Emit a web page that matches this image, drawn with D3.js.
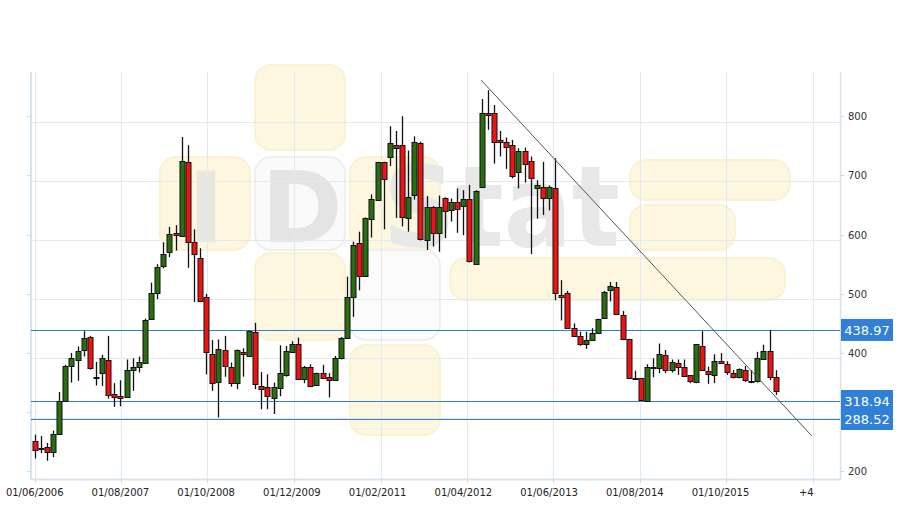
<!DOCTYPE html>
<html><head><meta charset="utf-8">
<script src="https://cdn.jsdelivr.net/npm/d3@7"></script>
<style>html,body{margin:0;padding:0;background:#fff;}svg{display:block;}</style>
</head><body>
<svg id="chart" width="909" height="509"></svg>
<script>
// ---- DATA (monthly candles, starting 06/2006) ----
const opens  = [251,240,241,232,263,319,378,388,404,427,359,366,389,330,327,327,372,376,384,457,502,546,570,602,597,722,588,560,494,398,350,405,377,350,401,395,435,345,342,325,340,363,401,416,357,377,345,366,359,354,391,425,495,585,530,626,658,722,730,752,751,629,668,755,591,646,602,661,641,655,649,660,551,681,806,805,760,756,751,706,741,724,678,680,661,678,498,501,442,429,415,422,433,459,508,512,465,423,357,357,319,375,375,397,370,383,377,362,351,411,370,363,387,381,366,359,371,352,352,390,404,360];
const highs  = [262,260,248,269,334,380,400,411,437,429,385,397,429,349,354,389,391,394,458,519,550,587,613,616,765,751,609,577,500,422,423,429,384,406,408,438,451,368,364,350,413,412,420,426,378,381,367,380,366,395,427,529,588,605,629,668,723,723,783,775,800,742,766,757,665,648,666,663,661,678,675,684,675,829,844,819,775,764,760,746,747,732,692,723,683,729,523,505,450,436,436,442,458,505,520,520,471,424,370,357,381,391,416,405,389,389,389,362,415,437,377,398,400,386,371,374,378,371,402,414,439,371];
const lows   = [222,231,218,224,262,318,350,353,394,372,345,344,323,309,310,326,336,367,383,456,491,543,562,573,596,544,486,486,364,336,291,360,343,339,360,394,339,305,305,297,327,360,400,356,349,344,344,357,325,353,389,424,461,506,529,595,657,609,716,628,614,605,659,590,574,580,571,594,622,603,599,553,550,680,777,720,732,711,695,678,688,567,627,633,641,489,455,441,427,412,407,421,432,458,487,465,424,357,356,319,318,359,366,366,367,363,360,349,349,370,348,349,382,363,357,357,351,349,350,389,354,329];
const closes = [236,239,232,263,319,378,391,404,425,374,360,391,330,325,323,372,377,384,456,501,546,567,601,598,724,587,568,487,401,349,406,378,350,405,397,437,347,340,327,343,366,403,415,357,377,345,366,358,354,392,425,495,582,530,628,660,722,693,754,747,629,664,757,592,646,602,646,639,655,644,660,555,674,806,803,756,756,747,698,741,719,695,683,661,680,500,495,442,428,415,422,433,457,503,514,466,425,357,358,319,377,376,398,371,384,376,362,352,415,371,365,387,383,367,360,373,354,351,391,404,360,336];

const xTickLabels = ["01/06/2006","01/08/2007","01/10/2008","01/12/2009","01/02/2011","01/04/2012","01/06/2013","01/08/2014","01/10/2015","+4"];
const xLabelIndex = [0,14,28,42,56,70,84,98,112,126];
const xGridIndex  = [0,14.1,28.2,42.35,56.5,70.6,84.7,98.8,112.95,127.1];
const yTickValues = [200,300,400,500,600,700,800];
const yLabelValues = [200,400,500,600,700,800];
const yGridValues = [291,391,491,591,691,791];
const levels      = [438.97,318.94,288.52];
const trendIndex  = [72.9,126.9];
const trendValue  = [861,260];

// ---- SCALES ----
const svg = d3.select("#chart");
const x = d3.scaleLinear().domain([0,127.1]).range([34.7,813]);
const y = d3.scaleLinear().domain([200,800]).range([471.4,116.2]);
const plotL = 31, plotR = 840, plotT = 72, plotB = 479;

svg.append("rect").attr("width",909).attr("height",509).attr("fill","#fff");

// ---- WATERMARK ----
const wm = svg.append("g");
const Y = "#fdf7e0";
const sq = [
  [255,65,90,85,Y],[160,157,90,93,Y],[255,157,90,93,"#fafafa"],[350,157,90,93,Y],
  [255,253,90,87,Y],[350,250,90,90,"#fbfbfb"],[350,345,90,90,Y],
  [630,160,160,40,Y],[630,205,105,45,Y],[450,258,335,42,Y]
];
wm.selectAll("rect").data(sq).join("rect")
  .attr("x",d=>d[0]).attr("y",d=>d[1]).attr("width",d=>d[2]).attr("height",d=>d[3])
  .attr("rx",16).attr("fill",d=>d[4]).attr("stroke",d=>d[4]===Y?"#fbf2d4":"#efefef").attr("stroke-width",2);
wm.append("text").attr("x",206).attr("y",242).attr("text-anchor","middle")
  .attr("font-family","DejaVu Sans").attr("font-weight","bold").attr("font-size",98).attr("fill","#e8e6df").text("I");
wm.append("text").attr("x",302).attr("y",242).attr("text-anchor","middle")
  .attr("font-family","DejaVu Sans").attr("font-weight","bold").attr("font-size",98).attr("fill","#e4e4e4").text("D");
wm.append("text").attr("x",383).attr("y",246).attr("textLength",237).attr("lengthAdjust","spacingAndGlyphs")
  .attr("font-family","DejaVu Sans").attr("font-weight","bold").attr("font-size",112).attr("fill","#e8e8e8").text("Stat");

// ---- GRID ----
const gridColor = "#e1eaf3";
svg.append("g").selectAll("line").data(xGridIndex).join("line")
  .attr("x1",d=>Math.round(x(d))+0.5).attr("x2",d=>Math.round(x(d))+0.5)
  .attr("y1",plotT).attr("y2",plotB).attr("stroke",gridColor).attr("stroke-width",1);
svg.append("g").selectAll("line").data(yGridValues).join("line")
  .attr("x1",plotL).attr("x2",plotR)
  .attr("y1",d=>Math.round(y(d))+0.5).attr("y2",d=>Math.round(y(d))+0.5)
  .attr("stroke",gridColor).attr("stroke-width",1);

// axis frame
svg.append("line").attr("x1",plotL).attr("x2",plotL).attr("y1",plotT).attr("y2",plotB+1).attr("stroke","#d8e3ee").attr("stroke-width",2);
svg.append("line").attr("x1",plotR+0.5).attr("x2",plotR+0.5).attr("y1",plotT).attr("y2",plotB+1).attr("stroke","#d8e3ee").attr("stroke-width",1.5);
svg.append("line").attr("x1",plotL).attr("x2",plotR).attr("y1",plotB+0.5).attr("y2",plotB+0.5).attr("stroke","#d8e3ee").attr("stroke-width",2);

// y ticks
svg.append("g").selectAll("line").data(yTickValues).join("line")
  .attr("x1",27).attr("x2",31).attr("y1",d=>Math.round(y(d))+0.5).attr("y2",d=>Math.round(y(d))+0.5)
  .attr("stroke","#cfdbe7");
svg.append("g").selectAll("line").data(yTickValues).join("line")
  .attr("x1",plotR).attr("x2",plotR+4).attr("y1",d=>Math.round(y(d))+0.5).attr("y2",d=>Math.round(y(d))+0.5)
  .attr("stroke","#cfdbe7");
svg.append("g").selectAll("text").data(yLabelValues).join("text")
  .attr("x",848).attr("y",d=>y(d)+4)
  .attr("font-family","DejaVu Sans").attr("font-size",10).attr("fill","#333").text(d=>d);

// x ticks
svg.append("g").selectAll("line").data(xGridIndex).join("line")
  .attr("x1",d=>Math.round(x(d))+0.5).attr("x2",d=>Math.round(x(d))+0.5)
  .attr("y1",plotB).attr("y2",plotB+4).attr("stroke","#cfdbe7");
svg.append("g").selectAll("text").data(xLabelIndex).join("text")
  .attr("x",d=>x(d)).attr("y",496).attr("text-anchor","middle")
  .attr("font-family","DejaVu Sans").attr("font-size",10).attr("fill","#222")
  .text((d,i)=>xTickLabels[i]);

// ---- LEVEL LINES ----
const levelColor = "#3380d0";
svg.append("g").selectAll("line").data(levels).join("line")
  .attr("x1",plotL).attr("x2",plotR)
  .attr("y1",d=>Math.round(y(d))+0.5).attr("y2",d=>Math.round(y(d))+0.5)
  .attr("stroke",levelColor).attr("stroke-width",1);

// ---- CANDLES ----
const candles = opens.map((o,i)=>({i,o,h:highs[i],l:lows[i],c:closes[i]}));
const cg = svg.append("g");
cg.selectAll("line").data(candles).join("line")
  .attr("x1",d=>Math.round(x(d.i))+0.5).attr("x2",d=>Math.round(x(d.i))+0.5)
  .attr("y1",d=>y(d.h)).attr("y2",d=>y(d.l))
  .attr("stroke","#111").attr("stroke-width",1.3);
cg.selectAll("rect").data(candles).join("rect")
  .attr("x",d=>Math.round(x(d.i))-2)
  .attr("y",d=>Math.round(y(Math.max(d.o,d.c)))+0.5)
  .attr("width",5)
  .attr("height",d=>Math.max(1,Math.round(Math.abs(y(d.o)-y(d.c)))))
  .attr("fill",d=>d.c>=d.o?"#2b6e12":"#ee1414")
  .attr("stroke","#111").attr("stroke-width",1);

// ---- TREND LINE ----
svg.append("line")
  .attr("x1",x(trendIndex[0])).attr("y1",y(trendValue[0]))
  .attr("x2",x(trendIndex[1])).attr("y2",y(trendValue[1]))
  .attr("stroke","#555").attr("stroke-width",1);

// ---- LEVEL LABELS ----
const lg = svg.append("g");
lg.selectAll("rect").data(levels).join("rect")
  .attr("x",841).attr("y",d=>y(d)-11).attr("width",52).attr("height",22)
  .attr("fill","#2f80d6");
lg.selectAll("text").data(levels).join("text")
  .attr("x",867).attr("y",d=>y(d)+5).attr("text-anchor","middle")
  .attr("font-family","DejaVu Sans").attr("font-size",13).attr("fill","#fff")
  .text(d=>d.toFixed(2));
</script>
</body></html>
